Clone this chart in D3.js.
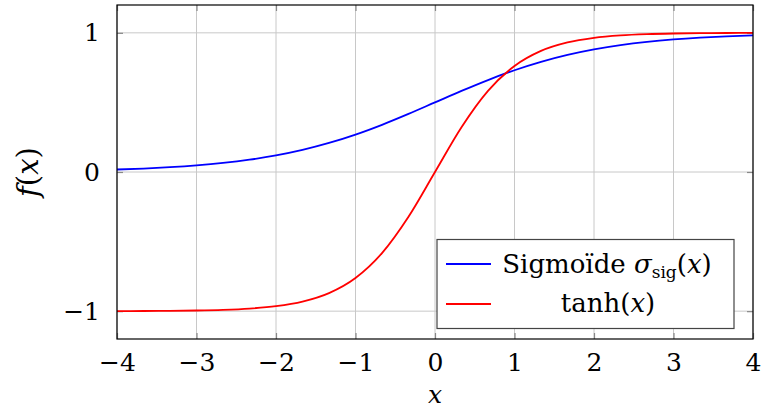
<!DOCTYPE html>
<html>
<head>
<meta charset="utf-8">
<script src="https://cdn.jsdelivr.net/npm/d3@7"></script>
<style>
  html, body { margin: 0; padding: 0; background: #fff; }
  svg text { font-family: "DejaVu Serif", "Liberation Serif", serif; fill: #000; }
</style>
</head>
<body>
<svg id="chart" width="761" height="412"></svg>
<script>
// Sample positions (25 samples over [-4, 4])
const xs = [-4, -3.6667, -3.3333, -3, -2.6667, -2.3333, -2, -1.6667, -1.3333, -1, -0.6667, -0.3333,
            0, 0.3333, 0.6667, 1, 1.3333, 1.6667, 2, 2.3333, 2.6667, 3, 3.3333, 3.6667, 4];
// Logistic sigmoid values at those positions
const sigmoidValues = [0.01799, 0.02491, 0.03444, 0.04743, 0.06496, 0.08842, 0.11920, 0.15889, 0.20863,
                       0.26894, 0.33921, 0.41743, 0.5, 0.58257, 0.66079, 0.73106, 0.79137, 0.84111,
                       0.88080, 0.91158, 0.93504, 0.95257, 0.96556, 0.97509, 0.98201];
// Hyperbolic tangent values at those positions
const tanhValues = [-0.99933, -0.99869, -0.99746, -0.99505, -0.99039, -0.98137, -0.96403, -0.93112, -0.87005,
                    -0.76159, -0.58282, -0.32151, 0, 0.32151, 0.58282, 0.76159, 0.87005, 0.93112,
                    0.96403, 0.98137, 0.99039, 0.99505, 0.99746, 0.99869, 0.99933];
const xTicks = [-4, -3, -2, -1, 0, 1, 2, 3, 4];
const yTicks = [-1, 0, 1];
const xDomain = [-4, 4];
const yDomain = [-1.2, 1.2];

const svg = d3.select("#chart");
const pLeft = 117, pRight = 753, pTop = 5, pBottom = 339;

const x = d3.scaleLinear().domain(xDomain).range([pLeft, pRight]);
const y = d3.scaleLinear().domain(yDomain).range([pBottom, pTop]);

const fmt = d => d < 0 ? "\u2212" + Math.abs(d) : String(d);

// Grid
const grid = svg.append("g");
grid.selectAll(".gx").data(xTicks).join("line")
  .attr("x1", d => x(d)).attr("x2", d => x(d)).attr("y1", pTop).attr("y2", pBottom)
  .attr("stroke", "#c8c8c8").attr("stroke-width", 1);
grid.selectAll(".gy").data(yTicks).join("line")
  .attr("y1", d => y(d)).attr("y2", d => y(d)).attr("x1", pLeft).attr("x2", pRight)
  .attr("stroke", "#c8c8c8").attr("stroke-width", 1);

// Axes (ticks drawn inward, labels outside)
const xAxisB = d3.axisBottom(x).tickValues(xTicks).tickSize(-6).tickFormat(fmt).tickPadding(14);
const xAxisT = d3.axisTop(x).tickValues(xTicks).tickSize(-6).tickFormat("");
const yAxisL = d3.axisLeft(y).tickValues(yTicks).tickSize(-6).tickFormat(fmt).tickPadding(17);
const yAxisR = d3.axisRight(y).tickValues(yTicks).tickSize(-6).tickFormat("");

function style(g) {
  g.select(".domain").remove();
  g.attr("font-family", null);
  g.selectAll(".tick line").attr("stroke", "#888").attr("stroke-width", 1.2);
  g.selectAll(".tick text").attr("font-size", 25);
}
svg.append("g").attr("transform", `translate(0,${pBottom})`).call(xAxisB).call(style);
svg.append("g").attr("transform", `translate(0,${pTop})`).call(xAxisT).call(style);
svg.append("g").attr("transform", `translate(${pLeft},0)`).call(yAxisL).call(style);
svg.append("g").attr("transform", `translate(${pRight},0)`).call(yAxisR).call(style);

// Curves
const line = d3.line().x(d => x(d[0])).y(d => y(d[1])).curve(d3.curveMonotoneX);
svg.append("clipPath").attr("id", "plotclip").append("rect")
  .attr("x", pLeft).attr("y", pTop).attr("width", pRight - pLeft).attr("height", pBottom - pTop);
svg.append("path").datum(xs.map((v, i) => [v, sigmoidValues[i]]))
  .attr("d", line).attr("fill", "none").attr("stroke", "#0000ff").attr("stroke-width", 1.8)
  .attr("clip-path", "url(#plotclip)");
svg.append("path").datum(xs.map((v, i) => [v, tanhValues[i]]))
  .attr("d", line).attr("fill", "none").attr("stroke", "#ff0000").attr("stroke-width", 1.8)
  .attr("clip-path", "url(#plotclip)");

// Frame
svg.append("rect").attr("x", pLeft).attr("y", pTop).attr("width", pRight - pLeft).attr("height", pBottom - pTop)
  .attr("fill", "none").attr("stroke", "#000").attr("stroke-width", 1.2);

// Axis titles
svg.append("text").attr("x", x(0)).attr("y", 403).attr("text-anchor", "middle")
  .attr("font-size", 25).attr("font-style", "italic").text("x");
const yl = svg.append("text").attr("transform", `translate(38,${y(0)}) rotate(-90)`)
  .attr("text-anchor", "middle").attr("font-size", 29);
yl.append("tspan").attr("font-style", "italic").text("f");
yl.append("tspan").text("(");
yl.append("tspan").attr("font-style", "italic").text("x");
yl.append("tspan").text(")");

// Legend
const lg = svg.append("g");
lg.append("rect").attr("x", 437).attr("y", 239.5).attr("width", 297).attr("height", 89)
  .attr("fill", "#fff").attr("stroke", "#444").attr("stroke-width", 1.2);
lg.append("line").attr("x1", 446).attr("x2", 491).attr("y1", 264).attr("y2", 264)
  .attr("stroke", "#0000ff").attr("stroke-width", 1.8);
lg.append("line").attr("x1", 446).attr("x2", 491).attr("y1", 304).attr("y2", 304)
  .attr("stroke", "#ff0000").attr("stroke-width", 1.8);
const t1 = lg.append("text").attr("x", 607).attr("y", 273).attr("text-anchor", "middle").attr("font-size", 26);
t1.append("tspan").text("Sigmoïde ");
t1.append("tspan").attr("font-style", "italic").text("σ");
t1.append("tspan").attr("font-size", 17).attr("dy", 5).text("sig");
t1.append("tspan").attr("dy", -5).text("(");
t1.append("tspan").attr("font-style", "italic").text("x");
t1.append("tspan").text(")");
const t2 = lg.append("text").attr("x", 608).attr("y", 312).attr("text-anchor", "middle").attr("font-size", 26);
t2.append("tspan").text("tanh(");
t2.append("tspan").attr("font-style", "italic").text("x");
t2.append("tspan").text(")");
</script>
</body>
</html>
